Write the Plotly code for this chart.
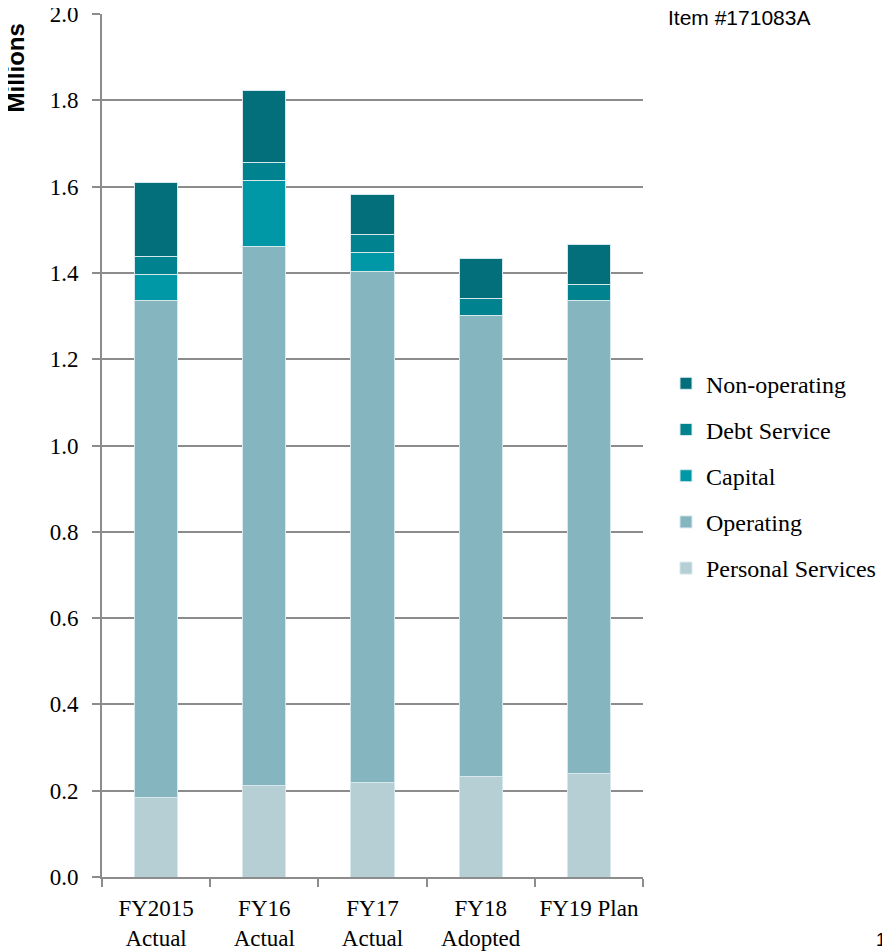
import plotly.graph_objects as go

categories = ["FY2015<br>Actual", "FY16<br>Actual", "FY17<br>Actual", "FY18<br>Adopted", "FY19 Plan"]
personal_services = [0.184, 0.213, 0.219, 0.232, 0.239]
operating = [1.153, 1.249, 1.185, 1.070, 1.098]
capital = [0.060, 0.152, 0.044, 0.0, 0.0]
debt_service = [0.042, 0.043, 0.040, 0.038, 0.035]
non_operating = [0.170, 0.165, 0.094, 0.094, 0.094]

series = [
    ("Personal Services", personal_services, "#b6cfd5"),
    ("Operating", operating, "#85b5bf"),
    ("Capital", capital, "#0097a7"),
    ("Debt Service", debt_service, "#00838f"),
    ("Non-operating", non_operating, "#036f7a"),
]

serif = "Liberation Serif"
sans = "Liberation Sans"

fig = go.Figure()
for i, (name, vals, col) in enumerate(series):
    fig.add_trace(go.Bar(
        x=categories, y=vals, name=name, legendgroup=name,
        legendrank=len(series) - i,  # top of stack first in the legend
        marker=dict(color=col, line=dict(color="#d6e8ec", width=1)),
    ))

# page body has an 8px margin, so the figure is kept 8px smaller than the window
fig.update_layout(
    barmode="stack",
    bargap=0.6,
    width=882, height=944,
    margin=dict(l=94, r=247, t=6, b=75),
    plot_bgcolor="white", paper_bgcolor="white",
    font=dict(family=serif, color="black", size=23),
    legend=dict(
        traceorder="grouped", tracegroupgap=12,
        x=1.0425, xanchor="left", y=0.465, yanchor="middle",
        font=dict(family=serif, size=24),
        itemwidth=30,
    ),
    xaxis=dict(
        automargin=False, tickangle=0,
        showline=True, linecolor="#8c8c8c", linewidth=2,
        ticks="outside", tickson="boundaries", ticklen=8, tickcolor="#8c8c8c", tickwidth=2,
        tickfont=dict(family=serif, size=23), ticklabelstandoff=9,
    ),
    yaxis=dict(
        automargin=False, ticklabeloverflow="allow",
        range=[0, 2], dtick=0.2, tickformat=".1f",
        showgrid=True, gridcolor="#8c8c8c", gridwidth=2,
        showline=True, linecolor="#8c8c8c", linewidth=2,
        ticks="outside", ticklen=8, tickcolor="#8c8c8c", tickwidth=2,
        tickfont=dict(family=serif, size=23), zeroline=False, ticklabelstandoff=9,
    ),
)

fig.add_annotation(
    text="<b>Millions</b>", textangle=-90,
    xref="paper", yref="paper", x=-0.159, y=0.938,
    xanchor="center", yanchor="middle", showarrow=False,
    font=dict(family=sans, size=24, color="black"),
)
fig.add_annotation(
    text="Item #171083A",
    xref="paper", yref="paper", x=1.0425, y=0.996,
    xanchor="left", yanchor="middle", showarrow=False,
    font=dict(family=sans, size=21, color="black"),
)
fig.add_annotation(
    text="1",
    xref="paper", yref="paper", x=1.4529, y=-0.073,
    xanchor="right", yanchor="middle", showarrow=False,
    font=dict(family=sans, size=18, color="black"),
)

fig.write_html("out.html")
